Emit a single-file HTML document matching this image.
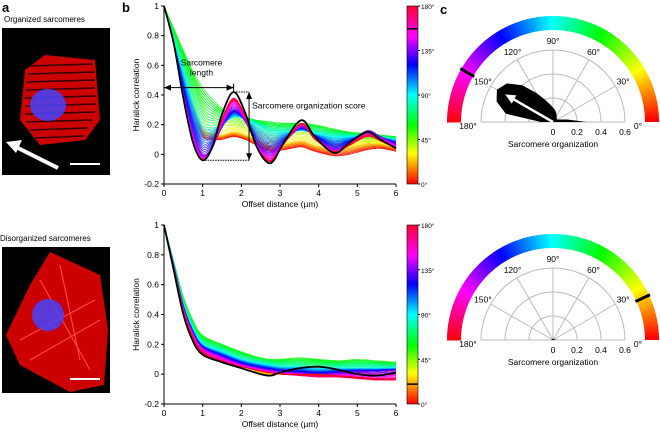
<!DOCTYPE html>
<html><head><meta charset="utf-8"><style>
body{margin:0;background:#fff;width:660px;height:434px;overflow:hidden}
svg text{font-family:"Liberation Sans",sans-serif}
</style></head><body>
<svg id="s" width="660" height="434" viewBox="0 0 660 434" xmlns="http://www.w3.org/2000/svg">
<defs>
<linearGradient id="cb" x1="0" y1="1" x2="0" y2="0">
<stop offset="0" stop-color="#f00"/><stop offset="0.17" stop-color="#ff0"/><stop offset="0.33" stop-color="#0f0"/><stop offset="0.5" stop-color="#0ff"/><stop offset="0.67" stop-color="#00f"/><stop offset="0.83" stop-color="#f0f"/><stop offset="1" stop-color="#f03"/>
</linearGradient>
</defs>
<text x="2" y="12" font-size="13" font-weight="bold">a</text>
<text x="4" y="22" font-size="8">Organized sarcomeres</text>
<g>
<rect x="2" y="28" width="108" height="147" fill="#000"/>
<path d="M25 70 L45 55 L95 60 L100 120 L85 140 L40 145 L20 120 Z" fill="#c00"/>
<g stroke="#300" stroke-width="1.6"><path d="M30 66 L92 64 M28 74 L95 72 M26 82 L95 80 M26 90 L95 88 M25 98 L96 96 M25 106 L96 104 M25 114 L95 112 M26 122 L92 120 M30 130 L88 128 M35 138 L84 136"/></g>
<ellipse cx="48" cy="105" rx="18" ry="16" fill="#44f" opacity="0.85"/>
<path d="M58 168 L14 146" stroke="#fff" stroke-width="4"/><path d="M6 142 L22 140 L16 153 Z" fill="#fff"/>
<path d="M70 164 L100 164" stroke="#fff" stroke-width="2"/>
</g>
<text x="0" y="241" font-size="8">Disorganized sarcomeres</text>
<g>
<rect x="2" y="247" width="108" height="146" fill="#000"/>
<path d="M50 252 L100 275 L108 330 L104 385 L70 392 L20 365 L6 335 L30 285 Z" fill="#c00"/>
<g stroke="#f44" stroke-width="1.2"><path d="M40 280 L90 370 M60 265 L80 360 M20 340 L95 300 M30 360 L100 320"/></g>
<ellipse cx="48" cy="315" rx="16" ry="16" fill="#44f" opacity="0.85"/>
<path d="M70 379 L100 379" stroke="#fff" stroke-width="2"/>
</g>
<text x="122" y="12" font-size="13" font-weight="bold">b</text>
<text x="440" y="14" font-size="13" font-weight="bold">c</text>
<g id="g"></g>
</svg>
<script>
const xTicks=[0,1,2,3,4,5,6];
const yTicks=[-0.2,0,0.2,0.4,0.6,0.8,1];
const cbLabels=["0°","45°","90°","135°","180°"];
const cbValues=[0,45,90,135,180];
const xs=[0,0.25,0.5,0.75,1,1.25,1.5,1.8,2.1,2.4,2.75,3.1,3.55,3.9,4.4,4.8,5.25,5.6,6];
const topAngles=[0,25,60,90,130,165,180];
const topC0=[1,0.78,0.55,0.3,0.12,0.1,0.1,0.12,0.1,0.06,0.02,0.03,0.05,0.02,-0.01,0.0,0.03,0.04,0.02];
const topC25=[1,0.8,0.58,0.35,0.18,0.14,0.13,0.15,0.13,0.1,0.06,0.07,0.09,0.06,0.04,0.05,0.07,0.07,0.05];
const topC60=[1,0.85,0.7,0.56,0.45,0.37,0.31,0.27,0.25,0.23,0.22,0.21,0.21,0.2,0.17,0.15,0.14,0.13,0.12];
const topC90=[1,0.76,0.55,0.35,0.2,0.18,0.2,0.25,0.24,0.2,0.15,0.15,0.16,0.14,0.12,0.12,0.12,0.11,0.1];
const topC130=[1,0.74,0.42,0.15,0.0,0.05,0.18,0.3,0.22,0.07,0.02,0.08,0.18,0.12,0.04,0.08,0.16,0.12,0.07];
const topC165=[1,0.74,0.38,0.08,-0.04,0.04,0.24,0.38,0.26,0.05,-0.05,0.07,0.21,0.11,0.01,0.07,0.13,0.09,0.04];
const topC180=[1,0.74,0.37,0.08,-0.04,0.04,0.23,0.36,0.25,0.05,-0.04,0.07,0.2,0.1,0.02,0.06,0.12,0.09,0.04];
const topBlack=[1,0.75,0.38,0.08,-0.04,0.05,0.27,0.42,0.28,0.05,-0.06,0.08,0.23,0.12,0.01,0.08,0.15,0.1,0.04];
const xsB=[0,0.25,0.5,0.75,1,1.5,2,2.5,2.75,3,3.5,4,4.5,5,5.5,6];
const botAngles=[0,25,60,90,130,165,180];
const botC0=[1,0.72,0.44,0.26,0.16,0.1,0.06,0.03,0.02,0.03,0.04,0.04,0.02,0.0,-0.01,0.0];
const botC25=[1,0.72,0.44,0.26,0.16,0.1,0.06,0.0,-0.01,0.02,0.04,0.04,0.02,0.01,0.0,0.01];
const botC60=[1,0.76,0.52,0.36,0.26,0.2,0.15,0.11,0.1,0.1,0.11,0.1,0.09,0.1,0.09,0.08];
const botC90=[1,0.74,0.47,0.3,0.2,0.15,0.1,0.07,0.06,0.05,0.05,0.04,0.04,0.04,0.04,0.04];
const botC130=[1,0.73,0.45,0.28,0.18,0.12,0.07,0.04,0.03,0.02,0.01,0.0,0.01,0.02,0.02,0.03];
const botC165=[1,0.72,0.43,0.25,0.15,0.09,0.05,0.02,0.01,0.0,-0.01,-0.02,-0.02,-0.03,-0.04,-0.04];
const botC180=[1,0.72,0.42,0.24,0.14,0.08,0.05,0.02,0.01,0.0,0.0,0.0,-0.01,-0.02,-0.03,-0.03];
const botBlack=[1,0.7,0.4,0.22,0.13,0.08,0.04,0.0,-0.01,0.01,0.04,0.05,0.03,0.0,-0.01,0.01];
const topMarkerAngle=157, botMarkerAngle=20;
const polarAngles=[0,10,20,30,40,50,60,70,80,90,100,110,120,130,140,150,160,170,180];
const topBlob=[0.28,0.12,0.06,0.04,0.04,0.05,0.06,0.08,0.1,0.12,0.15,0.2,0.28,0.4,0.5,0.54,0.5,0.4,0.1];
const botBlob=[0.03,0.02,0.015,0.01,0.01,0.01,0.01,0.01,0.01,0.01,0.01,0.01,0.01,0.01,0.01,0.01,0.01,0.015,0.02];
const topArrow={angle:150,r:0.46}, botArrow={angle:25,r:0.0};
const topArcMark=150, botArcMark=25;
const rTicks=[0,0.2,0.4,0.6];
const angTicks=[0,30,60,90,120,150,180];

const NS="http://www.w3.org/2000/svg",G=document.getElementById('g');
function el(t,a,p){const e=document.createElementNS(NS,t);for(const k in a)e.setAttribute(k,a[k]);(p||G).appendChild(e);return e;}
function txt(x,y,s,size,anchor,p){const e=el('text',{x:x,y:y,'font-size':size,'text-anchor':anchor||'start'},p);e.textContent=s;return e;}
function hue(a){return 'hsl('+(a*2)+',100%,50%)';}
function smooth(P){let d='M'+P[0][0]+' '+P[0][1];
  for(let i=0;i<P.length-1;i++){const p0=P[Math.max(0,i-1)],p1=P[i],p2=P[i+1],p3=P[Math.min(P.length-1,i+2)];
    const c1=[p1[0]+(p2[0]-p0[0])/6,p1[1]+(p2[1]-p0[1])/6],c2=[p2[0]-(p3[0]-p1[0])/6,p2[1]-(p3[1]-p1[1])/6];
    d+=`C${c1[0]} ${c1[1]} ${c2[0]} ${c2[1]} ${p2[0]} ${p2[1]}`;}
  return d;}

function chart(y0px,yTop,curves,angles,xv,black,marker,nm){
  const X0=164,X1=396,Y1=yTop,Y0=y0px;
  const sx=v=>X0+(v/6)*(X1-X0), sy=v=>Y0-(v+0.2)/1.2*(Y0-Y1);
  const g=el('g',{});
  
  for(let a=0;a<=180;a+=2.5){
    let i=0;while(i<angles.length-2&&a>angles[i+1])i++;
    const t=(a-angles[i])/(angles[i+1]-angles[i]);
    const pts=xv.map((x,k)=>[sx(x),sy(curves[i][k]*(1-t)+curves[i+1][k]*t)]);
    const p=el('path',{d:smooth(pts),fill:'none',stroke:hue(a),'stroke-width':0.6},g);
    
  }
  const b=el('path',{d:smooth(xv.map((x,k)=>[sx(x),sy(black[k])])),fill:'none',stroke:'#000','stroke-width':1.8},g);
  
  const ax=el('g',{},g);
  el('path',{d:`M${X0} ${Y1}V${Y0}H${X1}`,stroke:'#000',fill:'none','stroke-width':1},ax);
  xTicks.forEach(v=>{el('path',{d:`M${sx(v)} ${Y0}v3`,stroke:'#000'},ax);txt(sx(v),Y0+12,String(v),8.5,'middle',ax);});
  yTicks.forEach(v=>{el('path',{d:`M${X0} ${sy(v)}h-3`,stroke:'#000'},ax);txt(X0-5,sy(v)+3,String(v),8.5,'end',ax);});
  txt((X0+X1)/2,Y0+23,'Offset distance (µm)',8.5,'middle',ax);
  const yt=txt(0,0,'Haralick correlation',8.5,'middle',ax);yt.setAttribute('transform',`translate(${X0-25},${(Y0+Y1)/2}) rotate(-90)`);
  
  const cb=el('g',{},g);
  el('rect',{x:407,y:Y1,width:11,height:Y0-Y1,fill:'url(#cb)',stroke:'#000','stroke-width':0.6},cb);
  const cy=v=>Y0-v/180*(Y0-Y1);
  cbValues.forEach((v,i)=>{el('path',{d:`M418 ${cy(v)}h2`,stroke:'#000'},cb);txt(421,cy(v)+3,cbLabels[i],6.5,'start',cb);});
  el('path',{d:`M407 ${cy(marker)}h11`,stroke:'#000','stroke-width':1.5},cb);
  return {sx,sy};
}
const topCurves=[topC0,topC25,topC60,topC90,topC130,topC165,topC180];
const botCurves=[botC0,botC25,botC60,botC90,botC130,botC165,botC180];
const T=chart(184,6,topCurves,topAngles,xs,topBlack,topMarkerAngle,'top');
chart(404,225,botCurves,botAngles,xsB,botBlack,botMarkerAngle,'bottom');
const an=el('g',{});
const yl=T.sy(0.45);
el('path',{d:`M${T.sx(0)} ${yl}H${T.sx(1.8)} M${T.sx(1.8)} ${yl-4}v8`,stroke:'#000','stroke-width':1},an);
el('path',{d:`M${T.sx(0)} ${yl}l7 -3v6z`,fill:'#000'},an);el('path',{d:`M${T.sx(1.8)} ${yl}l-7 -3v6z`,fill:'#000'},an);
txt(T.sx(0.97),T.sy(0.6),'Sarcomere',8.5,'middle',an);txt(T.sx(0.97),T.sy(0.53),'length',8.5,'middle',an);
el('path',{d:`M${T.sx(1.8)} ${T.sy(0.42)}H${T.sx(2.2)} M${T.sx(1.0)} ${T.sy(-0.04)}H${T.sx(2.2)}`,stroke:'#000','stroke-dasharray':'1.5 1',fill:'none'},an);
const ax2=T.sx(2.2);
el('path',{d:`M${ax2} ${T.sy(0.42)}V${T.sy(-0.04)}`,stroke:'#000'},an);
el('path',{d:`M${ax2} ${T.sy(0.42)}l-3 7h6z M${ax2} ${T.sy(-0.04)}l-3 -7h6z`,fill:'#000'},an);
txt(ax2+3,T.sy(0.31),'Sarcomere organization score',8.5,'start',an);
function polar(cx,cy,blob,arrow,mark,nm){
  const R=72,sc=R/0.6,g=el('g',{});
  const P=(a,r)=>[cx+r*Math.cos(a*Math.PI/180),cy-r*Math.sin(a*Math.PI/180)];
  for(let a=0;a<180;a+=2){
    const r1=92,r2=106,p1=P(a,r1),p2=P(a,r2),p3=P(a+2.3,r2),p4=P(a+2.3,r1);
    el('path',{d:`M${p1}L${p2}L${p3}L${p4}Z`,fill:hue(a)},g);
  }
  const m1=P(mark,91),m2=P(mark,107);el('path',{d:`M${m1}L${m2}`,stroke:'#000','stroke-width':3},g);
  rTicks.slice(1).forEach(r=>{const a=P(0,r*sc),b=P(180,r*sc);el('path',{d:`M${a}A${r*sc} ${r*sc} 0 0 0 ${b}`,fill:'none',stroke:'#bbb','stroke-width':1},g);});
  angTicks.forEach(a=>{el('path',{d:`M${cx} ${cy}L${P(a,R)}`,stroke:'#bbb','stroke-width':1},g);
    const q=P(a,R+9);txt(q[0]+(a==0?4:a==180?-4:0),q[1]+3+(a==0||a==180?4:0),a+'°',8.5,'middle',g);});
  const pts=polarAngles.map((a,i)=>P(a,blob[i]*sc).join(','));
  const bl=el('polygon',{points:cx+','+cy+' '+pts.join(' '),fill:'#000'},g);
  
  if(arrow.r>0){const t=P(arrow.angle,arrow.r*sc),b=P(arrow.angle,arrow.r*sc-10),l=P(arrow.angle+6,arrow.r*sc-10),rr=P(arrow.angle-6,arrow.r*sc-10);
    el('path',{d:`M${cx} ${cy}L${b}`,stroke:'#fff','stroke-width':2.5},g);el('path',{d:`M${t}L${l}L${rr}Z`,fill:'#fff'},g);}
  rTicks.forEach(r=>txt(cx+r*sc,cy+13,String(r),8.5,'middle',g));
  txt(cx,cy+25,'Sarcomere organization',8.5,'middle',g);
}
polar(553,122,topBlob,topArrow,topArcMark,'top');
polar(553,340,botBlob,botArrow,botArcMark,'bottom');
</script>
</body></html>
